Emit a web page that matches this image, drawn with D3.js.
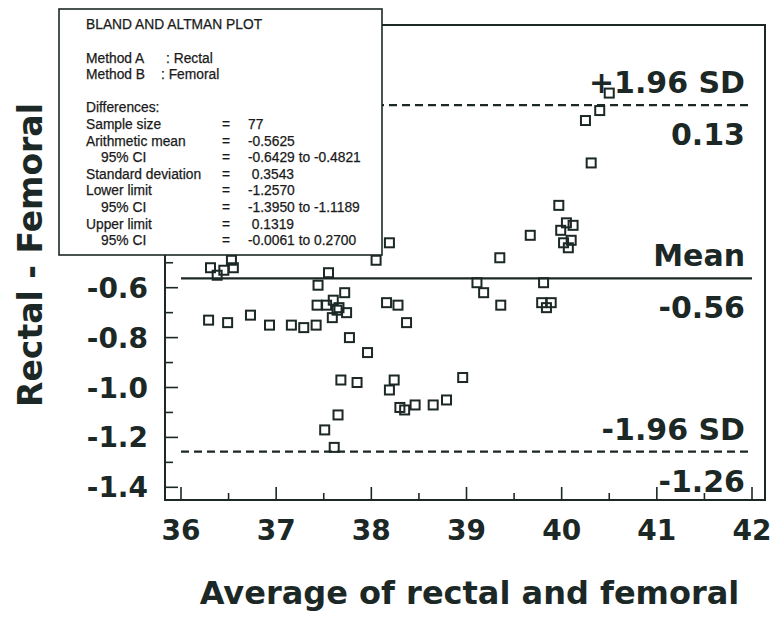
<!DOCTYPE html>
<html>
<head>
<meta charset="utf-8">
<script src="https://cdn.jsdelivr.net/npm/d3@7"></script>
<style>
  body { margin: 0; background: #fff; }
  svg { display: block; }
</style>
</head>
<body>
<div id="chart"></div>
<script>
// averages (x) and differences (y)
var avgValues = [40.50, 40.40, 40.25, 40.31, 39.97, 40.05, 40.12, 39.99, 40.10, 40.02,
  40.07, 39.67, 39.35, 39.11, 39.18, 39.36, 39.81, 39.79, 39.89, 39.84,
  38.19, 38.05, 37.55, 37.44, 37.72, 37.43, 37.53, 37.60, 37.66, 37.64,
  37.74, 37.59, 38.16, 38.28, 38.37, 37.16, 37.29, 37.42, 37.77, 37.96,
  37.68, 37.85, 38.24, 38.19, 38.96, 38.30, 38.35, 38.46, 38.65, 38.79,
  37.65, 37.51, 37.61, 36.31, 36.38, 36.45, 36.53, 36.55, 36.29, 36.49,
  36.73, 36.93];
var diffValues = [0.18, 0.11, 0.07, -0.10, -0.27, -0.34, -0.35, -0.37, -0.41, -0.42,
  -0.44, -0.39, -0.48, -0.58, -0.62, -0.67, -0.58, -0.66, -0.66, -0.68,
  -0.42, -0.49, -0.54, -0.59, -0.62, -0.67, -0.67, -0.65, -0.68, -0.69,
  -0.70, -0.72, -0.66, -0.67, -0.74, -0.75, -0.76, -0.75, -0.80, -0.86,
  -0.97, -0.98, -0.97, -1.01, -0.96, -1.08, -1.09, -1.07, -1.07, -1.05,
  -1.11, -1.17, -1.24, -0.52, -0.55, -0.53, -0.49, -0.52, -0.73, -0.74,
  -0.71, -0.75];

var meanDiff = -0.5625;
var upperLimit = 0.1319;
var lowerLimit = -1.2570;

var xTicks = [36, 37, 38, 39, 40, 41, 42];
// labels above -0.6 sit under the stats box, so only these show
var yTicks = [-1.4, -1.2, -1.0, -0.8, -0.6];

var refLines = [
  {value: upperLimit, above: "+1.96 SD", below: "0.13", dash: "8,5"},
  {value: meanDiff, above: "Mean", below: "-0.56", dash: null},
  {value: lowerLimit, above: "-1.96 SD", below: "-1.26", dash: "8,5"}
];

var boxTitle = "BLAND AND ALTMAN PLOT";
var methodLabels = ["Method A", "Method B"];
var methodNames = [": Rectal", ": Femoral"];
var statLabels = ["Sample size", "Arithmetic mean", "95% CI", "Standard deviation",
  "Lower limit", "95% CI", "Upper limit", "95% CI"];
var statValues = ["77", "-0.5625", "-0.6429 to -0.4821", " 0.3543",
  "-1.2570", "-1.3950 to -1.1189", " 0.1319", "-0.0061 to 0.2700"];

var ink = "#1c2826";
var bigFont = "'DejaVu Sans', sans-serif";
var boxFont = "'Liberation Sans', Arial, sans-serif";

var tot_width = 780, tot_height = 618;
var frame = {left: 165, right: 765, top: 25, bottom: 500};

var svg = d3.select("#chart").append("svg")
  .attr("width", tot_width).attr("height", tot_height);

var x = d3.scaleLinear().domain([36, 42]).range([181, 752]);
var y = d3.scaleLinear().domain([-1.4, -0.6]).range([487.3, 287.7]);

// frame
svg.append("rect")
  .attr("x", frame.left).attr("y", frame.top)
  .attr("width", frame.right - frame.left).attr("height", frame.bottom - frame.top)
  .attr("fill", "none").attr("stroke", ink).attr("stroke-width", 2);

// x ticks (major + minor), pointing inward
var xMinor = d3.range(36.5, 42, 1);
svg.selectAll("line.xmaj").data(xTicks).enter().append("line")
  .attr("x1", d => x(d)).attr("x2", d => x(d))
  .attr("y1", frame.bottom).attr("y2", frame.bottom - 13)
  .attr("stroke", ink).attr("stroke-width", 1.6);
svg.selectAll("line.xmin").data(xMinor).enter().append("line")
  .attr("x1", d => x(d)).attr("x2", d => x(d))
  .attr("y1", frame.bottom).attr("y2", frame.bottom - 7)
  .attr("stroke", ink).attr("stroke-width", 1.6);
svg.selectAll("text.xlab").data(xTicks).enter().append("text")
  .attr("x", d => x(d)).attr("y", 540)
  .attr("text-anchor", "middle")
  .style("font-family", bigFont).style("font-weight", "bold").style("font-size", "28px")
  .attr("fill", ink)
  .text(d => d);

// y ticks
var yMinor = d3.range(-1.3, -0.45, 0.2);
svg.selectAll("line.ymaj").data(yTicks).enter().append("line")
  .attr("x1", frame.left).attr("x2", frame.left + 13)
  .attr("y1", d => y(d)).attr("y2", d => y(d))
  .attr("stroke", ink).attr("stroke-width", 1.6);
svg.selectAll("line.ymin").data(yMinor).enter().append("line")
  .attr("x1", frame.left).attr("x2", frame.left + 8)
  .attr("y1", d => y(d)).attr("y2", d => y(d))
  .attr("stroke", ink).attr("stroke-width", 1.6);
svg.selectAll("text.ylab").data(yTicks).enter().append("text")
  .attr("x", 148).attr("y", d => y(d) + 10)
  .attr("text-anchor", "end")
  .style("font-family", bigFont).style("font-weight", "bold").style("font-size", "28px")
  .attr("fill", ink)
  .text(d => d3.format(".1f")(d).replace("−", "-"));

// reference lines
svg.selectAll("line.ref").data(refLines).enter().append("line")
  .attr("x1", x(36)).attr("x2", x(42))
  .attr("y1", d => y(d.value)).attr("y2", d => y(d.value))
  .attr("stroke", ink).attr("stroke-width", 2.2)
  .attr("stroke-dasharray", d => d.dash);

svg.selectAll("text.refa").data(refLines).enter().append("text")
  .attr("x", x(42) - 7).attr("y", d => y(d.value) - 12)
  .attr("text-anchor", "end")
  .style("font-family", bigFont).style("font-weight", "bold").style("font-size", "30px")
  .attr("fill", ink)
  .text(d => d.above);
svg.selectAll("text.refb").data(refLines).enter().append("text")
  .attr("x", x(42) - 7).attr("y", d => y(d.value) + 40)
  .attr("text-anchor", "end")
  .style("font-family", bigFont).style("font-weight", "bold").style("font-size", "30px")
  .attr("fill", ink)
  .text(d => d.below);

// points: open squares
var pts = avgValues.map(function(a, i) { return {avg: a, diff: diffValues[i]}; });
svg.selectAll("rect.pt").data(pts).enter().append("rect")
  .attr("class", "pt")
  .attr("x", d => x(d.avg) - 4.5).attr("y", d => y(d.diff) - 4.5)
  .attr("width", 9).attr("height", 9)
  .attr("fill", "none").attr("stroke", ink).attr("stroke-width", 2);

// axis titles
svg.append("text")
  .attr("x", (x(36) + x(42)) / 2 + 3).attr("y", 604)
  .attr("text-anchor", "middle")
  .style("font-family", bigFont).style("font-weight", "bold").style("font-size", "32px")
  .attr("fill", ink)
  .text("Average of  rectal and femoral");

svg.append("text")
  .attr("transform", "translate(42,255) rotate(-90)")
  .attr("text-anchor", "middle")
  .style("font-family", bigFont).style("font-weight", "bold").style("font-size", "33px")
  .attr("fill", ink)
  .text("Rectal - Femoral");

// stats box
var box = svg.append("g");
box.append("rect")
  .attr("x", 59).attr("y", 9).attr("width", 323).attr("height", 246)
  .attr("fill", "#fff").attr("stroke", ink).attr("stroke-width", 1.6);

function boxText(tx, ty, s) {
  return box.append("text")
    .attr("x", tx).attr("y", ty)
    .style("font-family", boxFont).style("font-size", "13.8px")
    .style("white-space", "pre")
    .attr("fill", "#1a1a1a")
    .attr("stroke", "#1a1a1a").attr("stroke-width", 0.25)
    .text(s);
}
boxText(86, 29, boxTitle);
methodLabels.forEach(function(m, i) {
  boxText(86, 63 + i * 15.5, m);
  boxText(i === 0 ? 166 : 161, 63 + i * 15.5, methodNames[i]);
});
boxText(86, 112, "Differences:");
statLabels.forEach(function(s, i) {
  var ty = 129 + i * 16.6;
  boxText(s === "95% CI" ? 101 : 86, ty, s);
  boxText(222, ty, "=");
  boxText(248, ty, statValues[i]);
});
</script>
</body>
</html>
